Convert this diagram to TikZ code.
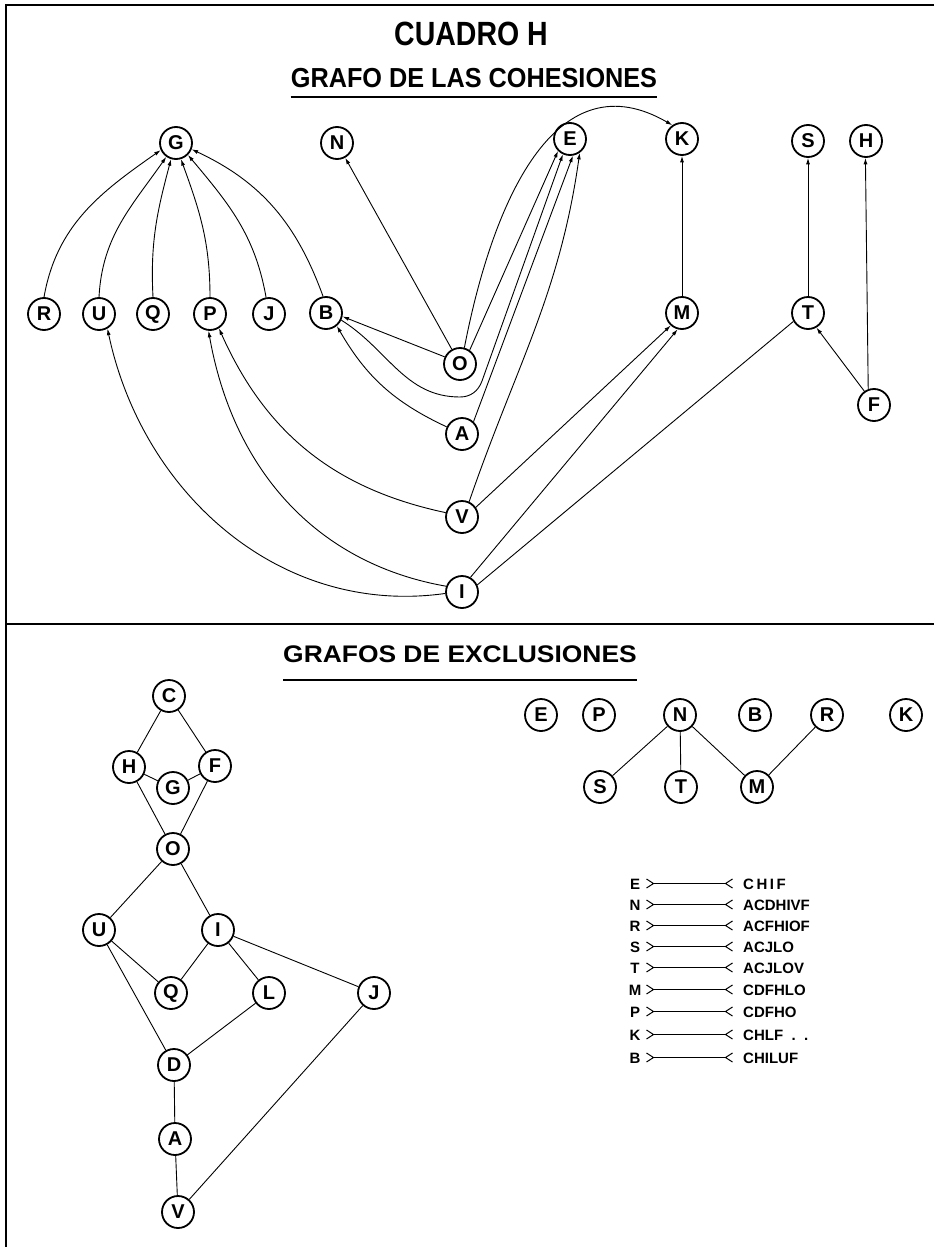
\documentclass[tikz,border=0pt]{standalone}
\usepackage{fontspec}
\setmainfont{Liberation Sans}
\usetikzlibrary{arrows.meta,calc}
\begin{document}
\begin{tikzpicture}[x=1pt,y=1pt,
  vtx/.style={circle,draw,line width=1.8pt,minimum size=32pt,inner sep=0pt,
              font=\bfseries\fontsize{20}{20}\selectfont},
  plainlink/.style={line width=0.9pt},
  dirlink/.style={plainlink,-{Latex[length=6.5pt,width=4pt]}},
  border/.style={line width=2pt},
  uline/.style={line width=2pt},
  legtext/.style={inner sep=0pt,anchor=base west,font=\bfseries\fontsize{15}{15}\selectfont},
  legletter/.style={inner sep=0pt,anchor=base,font=\bfseries\fontsize{15}{15}\selectfont},
  bondline/.style={line width=1pt,
     {Straight Barb[reversed,length=7pt,width=9pt]}-{Straight Barb[reversed,length=7pt,width=9pt]}}
]
\useasboundingbox (0,0) rectangle (934,-1247);

% frame and divider
\draw[border] (934,-5) -- (6,-5) -- (6,-1247);
\draw[border] (6,-624) -- (934,-624);

% titles
\node[inner sep=0pt,anchor=base,font=\bfseries\fontsize{30}{30}\selectfont] (ttl) at (471,-46) {\scalebox{0.95}[1.12]{CUADRO H}};
\node[inner sep=0pt,anchor=base,font=\bfseries\fontsize{25}{25}\selectfont] (sub1) at (474,-87) {\scalebox{1.01}[1.1]{GRAFO DE LAS COHESIONES}};
\draw[uline] ([yshift=-10pt]sub1.base west) -- ([yshift=-10pt]sub1.base east);
\node[inner sep=0pt,anchor=base,font=\bfseries\fontsize{24}{24}\selectfont] (sub2) at (460,-662) {\scalebox{1.1}[1]{GRAFOS DE EXCLUSIONES}};
\draw[uline] ([yshift=-18pt]sub2.base west) -- ([yshift=-18pt]sub2.base east);

% ---------- cohesion graph ----------
\node[vtx] (cG) at (176,-143) {G};
\node[vtx] (cN) at (337,-143) {N};
\node[vtx] (cE) at (570,-139) {E};
\node[vtx] (cK) at (682,-139) {K};
\node[vtx] (cS) at (808,-141) {S};
\node[vtx] (cH) at (866,-141) {H};
\node[vtx] (cR) at (44,-314) {R};
\node[vtx] (cU) at (99,-314) {U};
\node[vtx] (cQ) at (153,-314) {Q};
\node[vtx] (cP) at (210,-314) {P};
\node[vtx] (cJ) at (269,-314) {J};
\node[vtx] (cB) at (326,-313) {B};
\node[vtx] (cO) at (460,-364) {O};
\node[vtx] (cA) at (462,-434) {A};
\node[vtx] (cV) at (462,-517) {V};
\node[vtx] (cI) at (462,-592) {I};
\node[vtx] (cM) at (682,-313) {M};
\node[vtx] (cT) at (808,-313) {T};
\node[vtx] (cF) at (874,-405) {F};

% into G
\draw[dirlink] (cR.north) to[out=80,in=215] (cG.205);
\draw[dirlink] (cU.north) to[out=87,in=235] (cG.235);
\draw[dirlink] (cQ.north) to[out=93,in=255] (cG.253);
\draw[dirlink] (cP.north) to[out=90,in=290] (cG.287);
\draw[dirlink] (cJ.100) to[out=100,in=310] (cG.315);
\draw[dirlink] (cB.100) to[out=110,in=335] (cG.338);

% N, E, K
\draw[dirlink] (cO) -- (cN);
\draw[dirlink] (cO.55) -- (cE.225);
\draw[dirlink] (cO.75) .. controls (495,-190) and (560,-60) .. (cK.125);
\coordinate (under) at (460,-397);
\coordinate (rise) at (482,-381);
\draw[dirlink] (cB.-25) to[out=-32,in=180] (under) to[out=0,in=250] (rise) -- (cE.245);
\draw[dirlink] (cA.47) -- (cE.280);
\draw[dirlink] (cV.65) to[out=71,in=262] (cE.305);
\draw[dirlink] (cM) -- (cK);

% into B
\draw[dirlink] (cO.155) -- (cB.-12);
\draw[dirlink] (cA.155) to[out=155,in=-60] (cB.-50);

% into P and U
\draw[dirlink] (cV.165) to[out=168,in=-66] (cP.-58);
\draw[dirlink] (cI.160) to[out=170,in=280] (cP.265);
\draw[dirlink] (cI.185) to[out=188,in=282] (cU.-60);

% into M, T, S, H
\draw[dirlink] (cV.35) -- (cM.228);
\draw[dirlink] (cI.60) -- (cM.255);
\draw[plainlink] (cI.25) -- (cT.210);
\draw[dirlink] (cT) -- (cS);
\draw[dirlink] (cF.125) -- (cT.-60);
\draw[dirlink] (cF.110) -- (cH.268);

% ---------- exclusion graph (left) ----------
\node[vtx] (xC) at (169,-696) {C};
\node[vtx] (xH) at (129,-767) {H};
\node[vtx] (xF) at (215,-766) {F};
\node[vtx] (xG) at (173,-788) {G};
\node[vtx] (xO) at (173,-849) {O};
\node[vtx] (xU) at (99,-930) {U};
\node[vtx] (xI) at (218,-930) {I};
\node[vtx] (xQ) at (171,-993) {Q};
\node[vtx] (xL) at (269,-993) {L};
\node[vtx] (xJ) at (374,-993) {J};
\node[vtx] (xD) at (174,-1065) {D};
\node[vtx] (xA) at (175,-1139) {A};
\node[vtx] (xV) at (178,-1212) {V};

\draw[plainlink] (xC) -- (xH);
\draw[plainlink] (xC) -- (xF);
\draw[plainlink] (xH) -- (xG);
\draw[plainlink] (xG) -- (xF);
\draw[plainlink] (xH) -- (xO);
\draw[plainlink] (xF) -- (xO);
\draw[plainlink] (xO) -- (xU);
\draw[plainlink] (xO) -- (xI);
\draw[plainlink] (xU) -- (xQ);
\draw[plainlink] (xU) -- (xD);
\draw[plainlink] (xI) -- (xQ);
\draw[plainlink] (xI) -- (xL);
\draw[plainlink] (xI) -- (xJ);
\draw[plainlink] (xL) -- (xD);
\draw[plainlink] (xD) -- (xA);
\draw[plainlink] (xA) -- (xV);
\draw[plainlink] (xV) -- (xJ);

% ---------- exclusion graph (right) ----------
\node[vtx] (yE) at (541,-715) {E};
\node[vtx] (yP) at (599,-715) {P};
\node[vtx] (yN) at (680,-715) {N};
\node[vtx] (yB) at (755,-715) {B};
\node[vtx] (yR) at (827,-715) {R};
\node[vtx] (yK) at (906,-715) {K};
\node[vtx] (yS) at (600,-787) {S};
\node[vtx] (yT) at (681,-787) {T};
\node[vtx] (yM) at (757,-787) {M};

\draw[plainlink] (yN) -- (yS);
\draw[plainlink] (yN) -- (yT);
\draw[plainlink] (yN) -- (yM);
\draw[plainlink] (yR) -- (yM);

% ---------- legend ----------
\foreach \k/\lt/\rt/\yy in {1/E/{C\,H\,I\,F}/889, 2/N/ACDHIVF/910, 3/R/ACFHIOF/931,
                           4/S/ACJLO/952, 5/T/ACJLOV/973, 6/M/CDFHLO/995,
                           7/P/CDFHO/1017, 8/K/{CHLF\ \ .\ \ .}/1040, 9/B/CHILUF/1063} {
  \node[legletter] (ll\k) at (635,-\yy) {\lt};
  \node[legtext] (lr\k) at (743,-\yy) {\rt};
  \draw[bondline] ([xshift=11pt,yshift=5.5pt]ll\k.base) -- ([xshift=-10pt,yshift=5.5pt]lr\k.base west);
}
\end{tikzpicture}
\end{document}
